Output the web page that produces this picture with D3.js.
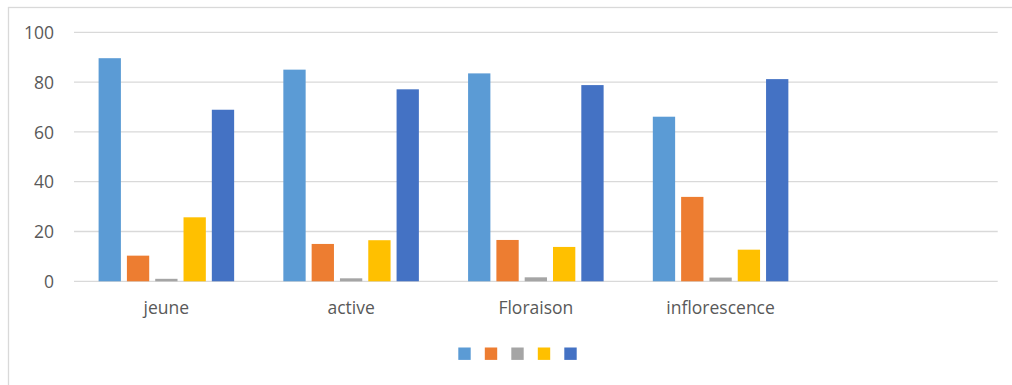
<!DOCTYPE html>
<html>
<head>
<meta charset="utf-8">
<script src="https://cdn.jsdelivr.net/npm/d3@7"></script>
<style>
  html, body { margin: 0; padding: 0; background: #fff; }
  svg { display: block; }
</style>
</head>
<body>
<svg id="chart" width="1012" height="385"></svg>
<script>
// Categories (the last slot is left empty, as in the workbook range)
const categories = ["jeune", "active", "Floraison", "inflorescence", ""];

// Series values, one array per series
const series1 = [89.6, 85.0, 83.5, 66.1];
const series2 = [10.3, 15.0, 16.6, 33.9];
const series3 = [1.0, 1.2, 1.6, 1.5];
const series4 = [25.7, 16.5, 13.8, 12.7];
const series5 = [68.9, 77.1, 78.8, 81.2];

const yTicks = [0, 20, 40, 60, 80, 100];

const seriesList = [series1, series2, series3, series4, series5];
const colors = ["#5B9BD5", "#ED7D31", "#A5A5A5", "#FFC000", "#4472C4"];

const svg = d3.select("#chart");
const font = "'Open Sans', 'Liberation Sans', sans-serif";

// Chart area frame
svg.append("rect")
  .attr("x", 8.5).attr("y", 7.5)
  .attr("width", 1200).attr("height", 600)
  .attr("fill", "none")
  .attr("stroke", "#d9d9d9")
  .attr("stroke-width", 1.3);

const x0 = d3.scaleBand().domain(categories).range([74, 997.7]).paddingInner(0).paddingOuter(0);
const x1 = d3.scaleBand().domain(d3.range(seriesList.length))
  .range([24.6, x0.bandwidth() - 24.6]).paddingInner(0.212).paddingOuter(0);
const y = d3.scaleLinear().domain([0, 100]).range([281.3, 32.3]);

// Horizontal gridlines
svg.append("g").selectAll("line")
  .data(yTicks)
  .join("line")
  .attr("x1", x0.range()[0]).attr("x2", x0.range()[1])
  .attr("y1", d => y(d)).attr("y2", d => y(d))
  .attr("stroke", "#d9d9d9")
  .attr("stroke-width", 1.3);

// Value axis labels
const yAxis = d3.axisLeft(y).tickValues(yTicks).tickSize(0).tickPadding(0).tickFormat(d3.format("d"));
const gy = svg.append("g").attr("transform", "translate(54,0)").call(yAxis);
gy.select(".domain").remove();
gy.selectAll("text")
  .attr("font-family", font)
  .attr("font-size", 17.5)
  .attr("fill", "#595959")
  .attr("dy", "0.35em");

// Category axis labels
const xAxis = d3.axisBottom(x0).tickSize(0).tickPadding(0);
const gx = svg.append("g").attr("transform", "translate(0,281.3)").call(xAxis);
gx.select(".domain").remove();
gx.selectAll("text")
  .attr("font-family", font)
  .attr("font-size", 17.5)
  .attr("fill", "#595959")
  .attr("dy", 0)
  .attr("y", 33);

// Bars
const groups = svg.append("g").selectAll("g")
  .data(categories.slice(0, series1.length))
  .join("g")
  .attr("transform", d => `translate(${x0(d)},0)`);

groups.selectAll("rect")
  .data((d, ci) => seriesList.map((s, si) => ({ si, v: s[ci] })))
  .join("rect")
  .attr("x", d => x1(d.si))
  .attr("width", x1.bandwidth())
  .attr("y", d => y(d.v))
  .attr("height", d => y(0) - y(d.v))
  .attr("fill", d => colors[d.si]);

// Legend (series without names)
const legend = svg.append("g").attr("transform", "translate(458.3,347.5)");
legend.selectAll("rect")
  .data(seriesList)
  .join("rect")
  .attr("x", (d, i) => i * 26.5)
  .attr("y", 0)
  .attr("width", 12.4)
  .attr("height", 12.4)
  .attr("fill", (d, i) => colors[i]);
</script>
</body>
</html>
